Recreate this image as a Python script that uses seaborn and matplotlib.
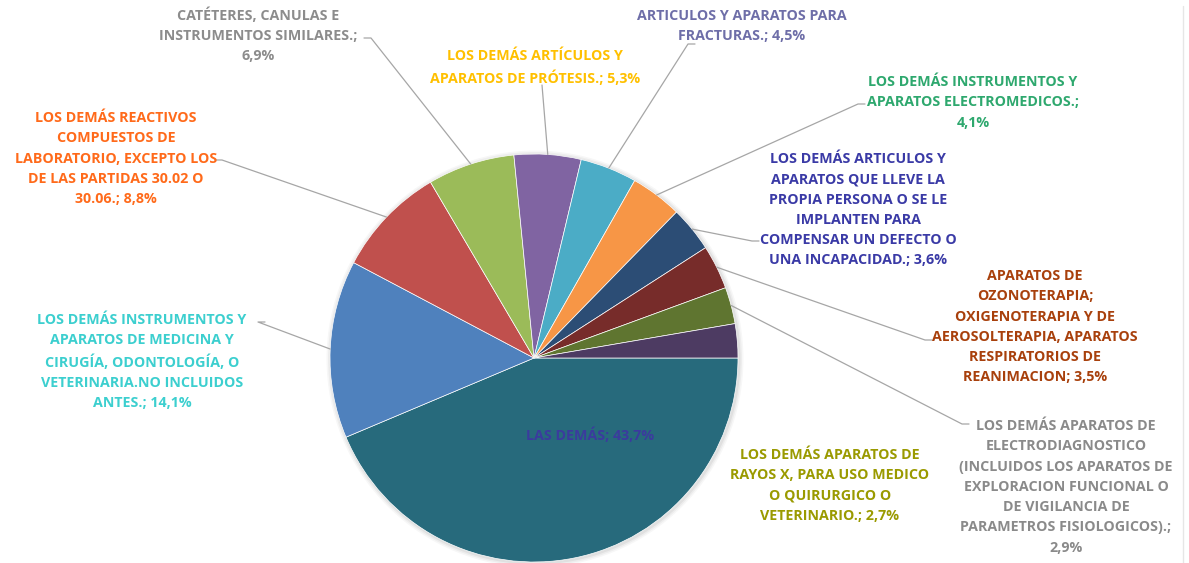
import matplotlib
matplotlib.use("Agg")
import matplotlib.pyplot as plt
import numpy as np
import seaborn as sns

# datos del gráfico (participación %)
categorias = [
    "LAS DEMÁS",
    "LOS DEMÁS INSTRUMENTOS Y\nAPARATOS DE MEDICINA Y\nCIRUGÍA, ODONTOLOGÍA, O\nVETERINARIA.NO INCLUIDOS\nANTES.",
    "LOS DEMÁS REACTIVOS\nCOMPUESTOS DE\nLABORATORIO, EXCEPTO LOS\nDE LAS PARTIDAS 30.02 O\n30.06.",
    "CATÉTERES, CANULAS E\nINSTRUMENTOS SIMILARES.",
    "LOS DEMÁS ARTÍCULOS Y\nAPARATOS DE PRÓTESIS.",
    "ARTICULOS Y APARATOS PARA\nFRACTURAS.",
    "LOS DEMÁS INSTRUMENTOS Y\nAPARATOS ELECTROMEDICOS.",
    "LOS DEMÁS ARTICULOS Y\nAPARATOS QUE LLEVE LA\nPROPIA PERSONA O SE LE\nIMPLANTEN PARA\nCOMPENSAR UN DEFECTO O\nUNA INCAPACIDAD.",
    "APARATOS DE\nOZONOTERAPIA;\nOXIGENOTERAPIA Y DE\nAEROSOLTERAPIA, APARATOS\nRESPIRATORIOS DE\nREANIMACION",
    "LOS DEMÁS APARATOS DE\nELECTRODIAGNOSTICO\n(INCLUIDOS LOS APARATOS DE\nEXPLORACION FUNCIONAL O\nDE VIGILANCIA DE\nPARAMETROS FISIOLOGICOS).",
    "LOS DEMÁS APARATOS DE\nRAYOS X, PARA USO MEDICO\nO QUIRURGICO O\nVETERINARIO.",
]
valores = [43.7, 14.1, 8.8, 6.9, 5.3, 4.5, 4.1, 3.6, 3.5, 2.9, 2.7]

colores = ["#276A7C", "#4F81BD", "#C0504D", "#9BBB59", "#8064A2", "#4BACC6",
           "#F79646", "#2C4D75", "#772C2A", "#5F7530", "#4D3B62"]
colores_texto = ["#3B3B9E", "#3CCFCF", "#FF6A1A", "#8C8C8C", "#FFC000", "#6E6EA8",
                 "#2EA86E", "#3A3AA6", "#A8400C", "#8A8A8A", "#9A9A00"]

# posición de cada etiqueta (centro x, y de la primera línea) y esquina del conector (px)
pos_texto = [(590, 432), (142, 318), (116, 116), (258, 12), (535, 54), (742, 14),
             (973, 80), (858, 157), (1035, 274), (1066, 424), (830, 453)]
esquina = [None, (258, 322), (222, 160), (371, 38), (542, 85), (688, 44),
           (858, 104), (752, 241), (925, 340), (962, 424), None]
lado = [None, "L", "R", "R", None, "L", "L", "L", "L", "L", None]
pct_nueva_linea = [3, 6, 9]

W, H = 1189, 563
sns.set_theme(style="white")
plt.rcParams["font.family"] = ["Open Sans", "DejaVu Sans"]

fig = plt.figure(figsize=(W / 100, H / 100), dpi=100)
ax = fig.add_axes([0, 0, 1, 1])

cx, cy, r = 534, H - 358, 204

# sombra suave
for k, a in enumerate([0.05, 0.04, 0.03]):
    ax.add_patch(plt.Circle((cx + 1, cy - 1), r + 1.5 + k * 1.5, color="black",
                            alpha=a, lw=0, zorder=0))

wedges, _ = ax.pie(valores, colors=colores, startangle=0, counterclock=False,
                   center=(cx, cy), radius=r, frame=True,
                   wedgeprops=dict(edgecolor="white", linewidth=0.5))
ax.set_xlim(0, W)
ax.set_ylim(0, H)
ax.set_aspect("equal")
ax.axis("off")

for i, (cat, val) in enumerate(zip(categorias, valores)):
    num = f"{val:.1f}".replace(".", ",")
    sep = ";\n" if i in pct_nueva_linea else "; "
    texto = f"{cat}{sep}{num}%"
    tx, ty = pos_texto[i]
    ax.text(tx, H - ty + 5, texto, ha="center", va="top",
            fontsize=10.3, fontweight="bold", color=colores_texto[i],
            linespacing=1.57, zorder=5)

    if esquina[i] is not None:
        w = wedges[i]
        ang = np.deg2rad((w.theta1 + w.theta2) / 2)
        px, py = cx + r * np.cos(ang), cy + r * np.sin(ang)
        ex, ey = esquina[i]
        ey = H - ey
        xs, ys = [px, ex], [py, ey]
        if lado[i] == "L":
            xs.append(ex + 7)
            ys.append(ey)
        elif lado[i] == "R":
            xs.append(ex - 7)
            ys.append(ey)
        ax.plot(xs, ys, color="#A6A6A6", lw=0.9, zorder=3)

# borde derecho del área del gráfico
ax.plot([1183, 1183], [0, H - 6], color="#E6E6E6", lw=1)

fig.savefig("out.png", dpi=100, facecolor="white")
